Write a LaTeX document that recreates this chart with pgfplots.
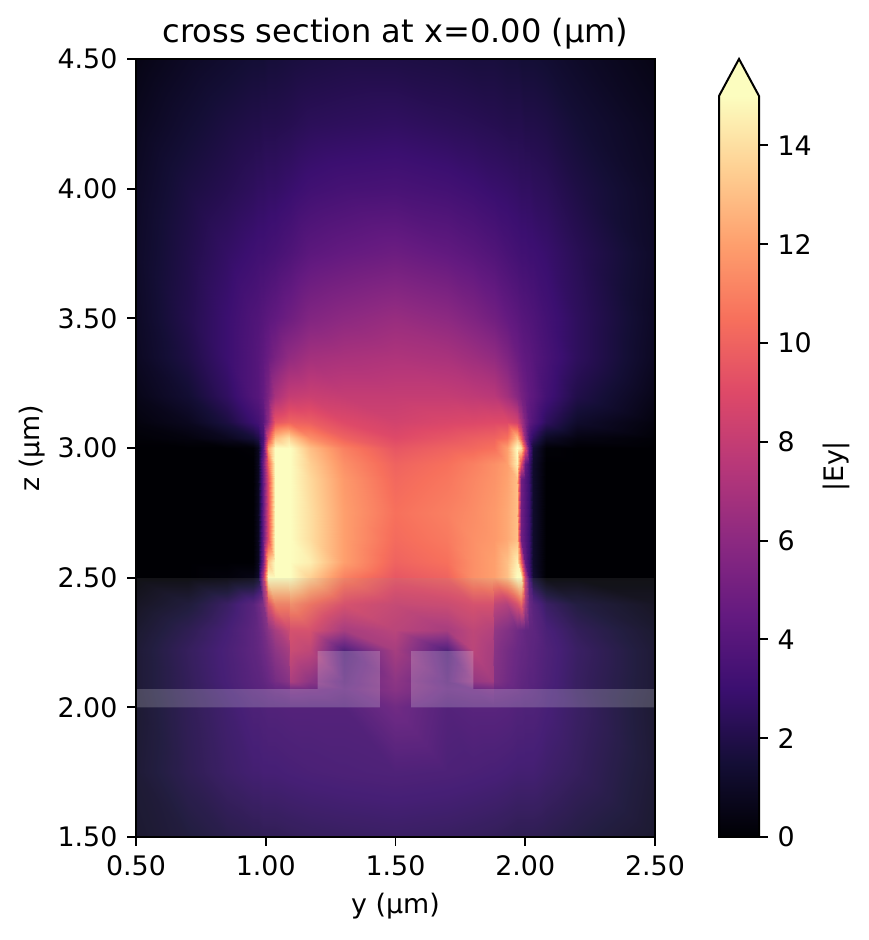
\documentclass[border=0pt]{standalone}
\usepackage{fontspec}
\setmainfont{DejaVu Sans}
\usepackage{pgfplots}
\pgfplotsset{compat=1.18}
\pgfplotsset{colormap={magma}{rgb255=(0,0,4); rgb255=(20,14,54); rgb255=(59,15,112); rgb255=(100,26,128); rgb255=(140,41,129); rgb255=(183,55,121); rgb255=(222,73,104); rgb255=(247,112,92); rgb255=(254,159,109); rgb255=(254,207,146); rgb255=(252,253,191)}}
\newlength{\px}\setlength{\px}{0.3614pt}
\begin{document}
\begin{tikzpicture}
\path[use as bounding box] (0,0) rectangle (868\px,940\px);
\begin{axis}[
  at={(136\px,103\px)}, anchor=south west, scale only axis,
  width=519\px, height=778\px,
  xmin=0.5, xmax=2.5, ymin=1.5, ymax=4.5,
  xtick={0.5,1,1.5,2,2.5}, ytick={1.5,2,2.5,3,3.5,4,4.5},
  xtick pos=bottom, ytick pos=left,
  tick align=outside, major tick length=3.2pt,
  tick style={black,line width=0.72pt}, axis line style={line width=0.72pt},
  /pgf/number format/assume math mode=true,
  /pgf/number format/fixed, /pgf/number format/fixed zerofill, /pgf/number format/precision=2,
  tick label style={font=\fontsize{9.7}{11}\selectfont},
  label style={font=\fontsize{9.7}{11}\selectfont},
  title style={font=\fontsize{11.6}{13}\selectfont, yshift=-6pt},
  title={cross section at x=0.00 (µm)},
  xlabel={y (µm)}, ylabel={z (µm)},
  ylabel shift=-2.5pt, xlabel shift=-0.5pt,
  point meta min=0, point meta max=15,
  axis on top,
]
\addplot[surf, shader=interp, mesh/cols=26, point meta=explicit] table[x=y, y=z, meta=c, row sep=\\] {
y z c\\
0.5 1.5 .9\\ 0.7 1.5 1.4\\ 0.85 1.5 1.8\\ 0.95 1.5 2\\ 0.97 1.5 2\\ 0.99 1.5 2.1\\ 1.01 1.5 2.1\\ 1.035 1.5 2.1\\ 1.09 1.5 2.2\\ 1.095 1.5 2.2\\ 1.17 1.5 2.3\\ 1.3 1.5 2.4\\ 1.5 1.5 2.5\\ 1.7 1.5 2.4\\ 1.8 1.5 2.3\\ 1.875 1.5 2.2\\ 1.88 1.5 2.2\\ 1.93 1.5 2.1\\ 1.97 1.5 2\\ 1.985 1.5 2\\ 2.0 1.5 2\\ 2.015 1.5 2\\ 2.03 1.5 2\\ 2.08 1.5 1.9\\ 2.2 1.5 1.6\\ 2.5 1.5 .9\\
0.5 1.75 1.1\\ 0.7 1.75 2\\ 0.85 1.75 2.6\\ 0.95 1.75 2.9\\ 0.97 1.75 2.9\\ 0.99 1.75 3\\ 1.01 1.75 3\\ 1.035 1.75 3\\ 1.09 1.75 3.1\\ 1.095 1.75 3.1\\ 1.17 1.75 3.2\\ 1.3 1.75 3.3\\ 1.5 1.75 3.4\\ 1.7 1.75 3.3\\ 1.8 1.75 3.2\\ 1.875 1.75 3.1\\ 1.88 1.75 3.1\\ 1.93 1.75 3\\ 1.97 1.75 2.9\\ 1.985 1.75 2.9\\ 2.0 1.75 2.9\\ 2.015 1.75 2.9\\ 2.03 1.75 2.9\\ 2.08 1.75 2.7\\ 2.2 1.75 2.3\\ 2.5 1.75 1.1\\
0.5 2.0 1\\ 0.7 2.0 2.1\\ 0.85 2.0 2.8\\ 0.95 2.0 3.3\\ 0.97 2.0 3.3\\ 0.99 2.0 3.4\\ 1.01 2.0 3.5\\ 1.035 2.0 3.5\\ 1.09 2.0 3.6\\ 1.095 2.0 3.6\\ 1.17 2.0 3.6\\ 1.3 2.0 3.6\\ 1.5 2.0 4.8\\ 1.7 2.0 3.6\\ 1.8 2.0 3.8\\ 1.875 2.0 3.8\\ 1.88 2.0 3.8\\ 1.93 2.0 3.7\\ 1.97 2.0 3.5\\ 1.985 2.0 3.5\\ 2.0 2.0 3.4\\ 2.015 2.0 3.4\\ 2.03 2.0 3.4\\ 2.08 2.0 3.1\\ 2.2 2.0 2.5\\ 2.5 2.0 1\\
0.5 2.07 1.1\\ 0.7 2.07 2.2\\ 0.85 2.07 3\\ 0.95 2.07 3.7\\ 0.97 2.07 3.8\\ 0.99 2.07 3.9\\ 1.01 2.07 4.1\\ 1.035 2.07 4.3\\ 1.09 2.07 4.6\\ 1.095 2.07 5\\ 1.17 2.07 4.8\\ 1.3 2.07 4.3\\ 1.5 2.07 5.8\\ 1.7 2.07 4.3\\ 1.8 2.07 4.6\\ 1.875 2.07 5\\ 1.88 2.07 4.6\\ 1.93 2.07 4.4\\ 1.97 2.07 4.2\\ 1.985 2.07 4\\ 2.0 2.07 3.9\\ 2.015 2.07 3.8\\ 2.03 2.07 3.7\\ 2.08 2.07 3.2\\ 2.2 2.07 2.4\\ 2.5 2.07 1.1\\
0.5 2.1 1.1\\ 0.7 2.1 2.2\\ 0.85 2.1 3.1\\ 0.95 2.1 3.8\\ 0.97 2.1 3.9\\ 0.99 2.1 4.1\\ 1.01 2.1 4.4\\ 1.035 2.1 5\\ 1.09 2.1 5.8\\ 1.095 2.1 7.2\\ 1.17 2.1 6\\ 1.3 2.1 4\\ 1.5 2.1 6\\ 1.7 2.1 4\\ 1.8 2.1 6.3\\ 1.875 2.1 6.8\\ 1.88 2.1 5.5\\ 1.93 2.1 4.8\\ 1.97 2.1 4.3\\ 1.985 2.1 4.1\\ 2.0 2.1 4\\ 2.015 2.1 3.8\\ 2.03 2.1 3.8\\ 2.08 2.1 3.3\\ 2.2 2.1 2.4\\ 2.5 2.1 1.1\\
0.5 2.22 1.1\\ 0.7 2.22 2.3\\ 0.85 2.22 3.2\\ 0.95 2.22 4\\ 0.97 2.22 4.2\\ 0.99 2.22 4.6\\ 1.01 2.22 5.1\\ 1.035 2.22 6\\ 1.09 2.22 7\\ 1.095 2.22 8.5\\ 1.17 2.22 8\\ 1.3 2.22 3.5\\ 1.5 2.22 7\\ 1.7 2.22 3.5\\ 1.8 2.22 7.8\\ 1.875 2.22 7\\ 1.88 2.22 5.8\\ 1.93 2.22 5\\ 1.97 2.22 4.5\\ 1.985 2.22 4.3\\ 2.0 2.22 4.2\\ 2.015 2.22 4\\ 2.03 2.22 3.9\\ 2.08 2.22 3.4\\ 2.2 2.22 2.5\\ 2.5 2.22 1.1\\
0.5 2.3 .9\\ 0.7 2.3 2\\ 0.85 2.3 3\\ 0.95 2.3 4\\ 0.97 2.3 4.3\\ 0.99 2.3 4.9\\ 1.01 2.3 5.8\\ 1.035 2.3 7\\ 1.09 2.3 8.5\\ 1.095 2.3 9\\ 1.17 2.3 9\\ 1.3 2.3 7\\ 1.5 2.3 7.8\\ 1.7 2.3 7\\ 1.8 2.3 8\\ 1.875 2.3 7.5\\ 1.88 2.3 6.2\\ 1.93 2.3 5.5\\ 1.97 2.3 4.8\\ 1.985 2.3 4.5\\ 2.0 2.3 4.2\\ 2.015 2.3 4.1\\ 2.03 2.3 4\\ 2.08 2.3 3.2\\ 2.2 2.3 2.2\\ 2.5 2.3 .9\\
0.5 2.4 .5\\ 0.7 2.4 1.3\\ 0.85 2.4 2.5\\ 0.95 2.4 3.8\\ 0.97 2.4 4.5\\ 0.99 2.4 5.5\\ 1.01 2.4 9\\ 1.035 2.4 11\\ 1.09 2.4 11\\ 1.095 2.4 11.5\\ 1.17 2.4 10.5\\ 1.3 2.4 9\\ 1.5 2.4 8.3\\ 1.7 2.4 8.5\\ 1.8 2.4 9\\ 1.875 2.4 9\\ 1.88 2.4 8\\ 1.93 2.4 7.5\\ 1.97 2.4 9\\ 1.985 2.4 10\\ 2.0 2.4 7\\ 2.015 2.4 4.5\\ 2.03 2.4 3.8\\ 2.08 2.4 2.5\\ 2.2 2.4 1.5\\ 2.5 2.4 .5\\
0.5 2.5 0\\ 0.7 2.5 0\\ 0.85 2.5 .2\\ 0.95 2.5 .5\\ 0.97 2.5 1.2\\ 0.99 2.5 7\\ 1.01 2.5 15\\ 1.035 2.5 15\\ 1.09 2.5 15\\ 1.095 2.5 15\\ 1.17 2.5 13.5\\ 1.3 2.5 11\\ 1.5 2.5 9.5\\ 1.7 2.5 10\\ 1.8 2.5 11.5\\ 1.875 2.5 12\\ 1.88 2.5 12\\ 1.93 2.5 13\\ 1.97 2.5 15\\ 1.985 2.5 15\\ 2.0 2.5 8\\ 2.015 2.5 3.5\\ 2.03 2.5 1.4\\ 2.08 2.5 0\\ 2.2 2.5 0\\ 2.5 2.5 0\\
0.5 2.56 0\\ 0.7 2.56 0\\ 0.85 2.56 0\\ 0.95 2.56 0\\ 0.97 2.56 .8\\ 0.99 2.56 5\\ 1.01 2.56 13\\ 1.035 2.56 15\\ 1.09 2.56 15\\ 1.095 2.56 15\\ 1.17 2.56 14.5\\ 1.3 2.56 12\\ 1.5 2.56 10\\ 1.7 2.56 10.5\\ 1.8 2.56 11.5\\ 1.875 2.56 12\\ 1.88 2.56 12\\ 1.93 2.56 13\\ 1.97 2.56 14.5\\ 1.985 2.56 10\\ 2.0 2.56 4.5\\ 2.015 2.56 3\\ 2.03 2.56 1.2\\ 2.08 2.56 0\\ 2.2 2.56 0\\ 2.5 2.56 0\\
0.5 2.65 0\\ 0.7 2.65 0\\ 0.85 2.65 0\\ 0.95 2.65 0\\ 0.97 2.65 .8\\ 0.99 2.65 4.5\\ 1.01 2.65 9\\ 1.035 2.65 15\\ 1.09 2.65 15\\ 1.095 2.65 15\\ 1.17 2.65 14\\ 1.3 2.65 12\\ 1.5 2.65 10.3\\ 1.7 2.65 10.8\\ 1.8 2.65 11.5\\ 1.875 2.65 11.8\\ 1.88 2.65 11.8\\ 1.93 2.65 12.3\\ 1.97 2.65 13\\ 1.985 2.65 5\\ 2.0 2.65 4\\ 2.015 2.65 3\\ 2.03 2.65 1.2\\ 2.08 2.65 0\\ 2.2 2.65 0\\ 2.5 2.65 0\\
0.5 2.75 0\\ 0.7 2.75 0\\ 0.85 2.75 0\\ 0.95 2.75 0\\ 0.97 2.75 .8\\ 0.99 2.75 4.5\\ 1.01 2.75 9\\ 1.035 2.75 15\\ 1.09 2.75 15\\ 1.095 2.75 15\\ 1.17 2.75 14\\ 1.3 2.75 12\\ 1.5 2.75 10.5\\ 1.7 2.75 11\\ 1.8 2.75 11.4\\ 1.875 2.75 11.8\\ 1.88 2.75 11.8\\ 1.93 2.75 12.3\\ 1.97 2.75 13\\ 1.985 2.75 5\\ 2.0 2.75 4\\ 2.015 2.75 3\\ 2.03 2.75 1.2\\ 2.08 2.75 0\\ 2.2 2.75 0\\ 2.5 2.75 0\\
0.5 2.88 0\\ 0.7 2.88 0\\ 0.85 2.88 0\\ 0.95 2.88 0\\ 0.97 2.88 .8\\ 0.99 2.88 4.5\\ 1.01 2.88 9\\ 1.035 2.88 15\\ 1.09 2.88 15\\ 1.095 2.88 15\\ 1.17 2.88 13.8\\ 1.3 2.88 11.8\\ 1.5 2.88 10.2\\ 1.7 2.88 10.7\\ 1.8 2.88 11.2\\ 1.875 2.88 11.6\\ 1.88 2.88 11.6\\ 1.93 2.88 12.1\\ 1.97 2.88 13\\ 1.985 2.88 5\\ 2.0 2.88 4\\ 2.015 2.88 3\\ 2.03 2.88 1.2\\ 2.08 2.88 0\\ 2.2 2.88 0\\ 2.5 2.88 0\\
0.5 2.94 0\\ 0.7 2.94 0\\ 0.85 2.94 0\\ 0.95 2.94 0\\ 0.97 2.94 .8\\ 0.99 2.94 4.8\\ 1.01 2.94 10\\ 1.035 2.94 15\\ 1.09 2.94 15\\ 1.095 2.94 15\\ 1.17 2.94 13.5\\ 1.3 2.94 11.5\\ 1.5 2.94 10\\ 1.7 2.94 10.5\\ 1.8 2.94 11\\ 1.875 2.94 11.5\\ 1.88 2.94 11.5\\ 1.93 2.94 12\\ 1.97 2.94 14.5\\ 1.985 2.94 9\\ 2.0 2.94 4.5\\ 2.015 2.94 3\\ 2.03 2.94 1.2\\ 2.08 2.94 0\\ 2.2 2.94 0\\ 2.5 2.94 0\\
0.5 3.0 0\\ 0.7 3.0 0\\ 0.85 3.0 0\\ 0.95 3.0 .1\\ 0.97 3.0 .8\\ 0.99 3.0 4\\ 1.01 3.0 12\\ 1.035 3.0 15\\ 1.09 3.0 15\\ 1.095 3.0 15\\ 1.17 3.0 13\\ 1.3 3.0 11\\ 1.5 3.0 9.5\\ 1.7 3.0 10\\ 1.8 3.0 10.2\\ 1.875 3.0 10.5\\ 1.88 3.0 10.5\\ 1.93 3.0 12\\ 1.97 3.0 15\\ 1.985 3.0 14\\ 2.0 3.0 9\\ 2.015 3.0 4\\ 2.03 3.0 1.5\\ 2.08 3.0 .1\\ 2.2 3.0 0\\ 2.5 3.0 0\\
0.5 3.04 .1\\ 0.7 3.04 .3\\ 0.85 3.04 .8\\ 0.95 3.04 1.5\\ 0.97 3.04 2\\ 0.99 3.04 3.5\\ 1.01 3.04 9\\ 1.035 3.04 13\\ 1.09 3.04 14\\ 1.095 3.04 13.5\\ 1.17 3.04 11.5\\ 1.3 3.04 10\\ 1.5 3.04 9\\ 1.7 3.04 9.5\\ 1.8 3.04 9.8\\ 1.875 3.04 10\\ 1.88 3.04 10\\ 1.93 3.04 10.5\\ 1.97 3.04 13\\ 1.985 3.04 10\\ 2.0 3.04 6\\ 2.015 3.04 3.5\\ 2.03 3.04 2.5\\ 2.08 3.04 1\\ 2.2 3.04 .4\\ 2.5 3.04 .1\\
0.5 3.1 .3\\ 0.7 3.1 .8\\ 0.85 3.1 1.8\\ 0.95 3.1 3\\ 0.97 3.1 3.3\\ 0.99 3.1 4\\ 1.01 3.1 6\\ 1.035 3.1 9.5\\ 1.09 3.1 10\\ 1.095 3.1 10\\ 1.17 3.1 9.8\\ 1.3 3.1 9\\ 1.5 3.1 8.5\\ 1.7 3.1 8.8\\ 1.8 3.1 8.9\\ 1.875 3.1 9\\ 1.88 3.1 9\\ 1.93 3.1 9\\ 1.97 3.1 8.5\\ 1.985 3.1 7\\ 2.0 3.1 5.5\\ 2.015 3.1 4.3\\ 2.03 3.1 3.8\\ 2.08 3.1 2.5\\ 2.2 3.1 1.2\\ 2.5 3.1 .3\\
0.5 3.2 .6\\ 0.7 3.2 1.4\\ 0.85 3.2 2.6\\ 0.95 3.2 3.8\\ 0.97 3.2 4\\ 0.99 3.2 4.5\\ 1.01 3.2 5.4\\ 1.035 3.2 7\\ 1.09 3.2 8\\ 1.095 3.2 8\\ 1.17 3.2 8.2\\ 1.3 3.2 8\\ 1.5 3.2 8\\ 1.7 3.2 8\\ 1.8 3.2 7.8\\ 1.875 3.2 7.6\\ 1.88 3.2 7.6\\ 1.93 3.2 6.8\\ 1.97 3.2 5.8\\ 1.985 3.2 5.2\\ 2.0 3.2 4.8\\ 2.015 3.2 4.4\\ 2.03 3.2 4.2\\ 2.08 3.2 3.3\\ 2.2 3.2 2\\ 2.5 3.2 .6\\
0.5 3.35 .9\\ 0.7 3.35 1.9\\ 0.85 3.35 3\\ 0.95 3.35 3.8\\ 0.97 3.35 4\\ 0.99 3.35 4.3\\ 1.01 3.35 4.7\\ 1.035 3.35 5.3\\ 1.09 3.35 6.2\\ 1.095 3.35 6.2\\ 1.17 3.35 6.8\\ 1.3 3.35 7\\ 1.5 3.35 7.2\\ 1.7 3.35 7\\ 1.8 3.35 6.6\\ 1.875 3.35 6.2\\ 1.88 3.35 6.2\\ 1.93 3.35 5.5\\ 1.97 3.35 4.8\\ 1.985 3.35 4.5\\ 2.0 3.35 4.3\\ 2.015 3.35 4.2\\ 2.03 3.35 4\\ 2.08 3.35 3.5\\ 2.2 3.35 2.5\\ 2.5 3.35 .9\\
0.5 3.5 1\\ 0.7 3.5 2.1\\ 0.85 3.5 3\\ 0.95 3.5 3.7\\ 0.97 3.5 3.8\\ 0.99 3.5 4\\ 1.01 3.5 4.2\\ 1.035 3.5 4.4\\ 1.09 3.5 4.9\\ 1.095 3.5 4.9\\ 1.17 3.5 5.6\\ 1.3 3.5 6\\ 1.5 3.5 6.4\\ 1.7 3.5 6\\ 1.8 3.5 5.5\\ 1.875 3.5 5\\ 1.88 3.5 5\\ 1.93 3.5 4.5\\ 1.97 3.5 4.2\\ 1.985 3.5 4\\ 2.0 3.5 3.9\\ 2.015 3.5 3.8\\ 2.03 3.5 3.7\\ 2.08 3.5 3.3\\ 2.2 3.5 2.5\\ 2.5 3.5 1\\
0.5 3.75 1.1\\ 0.7 3.75 2\\ 0.85 3.75 2.7\\ 0.95 3.75 3.1\\ 0.97 3.75 3.2\\ 0.99 3.75 3.2\\ 1.01 3.75 3.3\\ 1.035 3.75 3.4\\ 1.09 3.75 3.7\\ 1.095 3.75 3.7\\ 1.17 3.75 4.2\\ 1.3 3.75 4.5\\ 1.5 3.75 4.8\\ 1.7 3.75 4.4\\ 1.8 3.75 4.1\\ 1.875 3.75 3.8\\ 1.88 3.75 3.8\\ 1.93 3.75 3.5\\ 1.97 3.75 3.3\\ 1.985 3.75 3.2\\ 2.0 3.75 3.2\\ 2.015 3.75 3.1\\ 2.03 3.75 3.1\\ 2.08 3.75 2.9\\ 2.2 3.75 2.3\\ 2.5 3.75 1.1\\
0.5 4.0 1\\ 0.7 4.0 1.8\\ 0.85 4.0 2.2\\ 0.95 4.0 2.5\\ 0.97 4.0 2.6\\ 0.99 4.0 2.6\\ 1.01 4.0 2.7\\ 1.035 4.0 2.7\\ 1.09 4.0 2.9\\ 1.095 4.0 2.9\\ 1.17 4.0 3.2\\ 1.3 4.0 3.4\\ 1.5 4.0 3.5\\ 1.7 4.0 3.3\\ 1.8 4.0 3.1\\ 1.875 4.0 2.9\\ 1.88 4.0 2.9\\ 1.93 4.0 2.8\\ 1.97 4.0 2.7\\ 1.985 4.0 2.6\\ 2.0 4.0 2.6\\ 2.015 4.0 2.6\\ 2.03 4.0 2.5\\ 2.08 4.0 2.4\\ 2.2 4.0 1.9\\ 2.5 4.0 1\\
0.5 4.25 .8\\ 0.7 4.25 1.4\\ 0.85 4.25 1.8\\ 0.95 4.25 2\\ 0.97 4.25 2\\ 0.99 4.25 2.1\\ 1.01 4.25 2.1\\ 1.035 4.25 2.1\\ 1.09 4.25 2.2\\ 1.095 4.25 2.2\\ 1.17 4.25 2.4\\ 1.3 4.25 2.5\\ 1.5 4.25 2.6\\ 1.7 4.25 2.4\\ 1.8 4.25 2.3\\ 1.875 4.25 2.2\\ 1.88 4.25 2.2\\ 1.93 4.25 2.1\\ 1.97 4.25 2.1\\ 1.985 4.25 2.1\\ 2.0 4.25 2\\ 2.015 4.25 2\\ 2.03 4.25 2\\ 2.08 4.25 1.9\\ 2.2 4.25 1.5\\ 2.5 4.25 .8\\
0.5 4.5 .5\\ 0.7 4.5 1\\ 0.85 4.5 1.3\\ 0.95 4.5 1.5\\ 0.97 4.5 1.5\\ 0.99 4.5 1.5\\ 1.01 4.5 1.6\\ 1.035 4.5 1.6\\ 1.09 4.5 1.7\\ 1.095 4.5 1.7\\ 1.17 4.5 1.8\\ 1.3 4.5 1.9\\ 1.5 4.5 1.9\\ 1.7 4.5 1.8\\ 1.8 4.5 1.7\\ 1.875 4.5 1.7\\ 1.88 4.5 1.7\\ 1.93 4.5 1.6\\ 1.97 4.5 1.6\\ 1.985 4.5 1.5\\ 2.0 4.5 1.5\\ 2.015 4.5 1.5\\ 2.03 4.5 1.5\\ 2.08 4.5 1.4\\ 2.2 4.5 1.1\\ 2.5 4.5 .5\\
};
% medium overlay (z below 2.5)
\addplot[draw=none, fill={rgb,255:red,150;green,150;blue,155}, fill opacity=0.12, forget plot] coordinates {(0.5,1.5) (2.5,1.5) (2.5,2.5) (0.5,2.5)} -- cycle;
% waveguide overlay
\addplot[draw=none, fill=white, fill opacity=0.2, forget plot] coordinates {(0.5,2.0) (1.44,2.0) (1.44,2.217) (1.2,2.217) (1.2,2.07) (0.5,2.07)} -- cycle;
\addplot[draw=none, fill=white, fill opacity=0.2, forget plot] coordinates {(1.56,2.0) (2.5,2.0) (2.5,2.07) (1.8,2.07) (1.8,2.217) (1.56,2.217)} -- cycle;
\end{axis}
\begin{axis}[
  at={(719\px,103\px)}, anchor=south west, scale only axis,
  width=40\px, height=741\px,
  xmin=0, xmax=1, ymin=0, ymax=15, clip=false,
  xtick=\empty, ytick={0,2,4,6,8,10,12,14},
  ytick pos=right, yticklabel pos=right,
  tick align=outside, major tick length=3.2pt,
  tick style={black,line width=0.72pt}, axis line style={draw=none},
  /pgf/number format/assume math mode=true,
  tick label style={font=\fontsize{9.7}{11}\selectfont},
  label style={font=\fontsize{9.7}{11}\selectfont},
  ylabel={|Ey|}, ylabel shift=-3pt,
  point meta min=0, point meta max=15,
]
\addplot[surf, shader=interp, mesh/cols=2, point meta=explicit] table[x=x, y=y, meta=c, row sep=\\] {
x y c\\
0 0 0\\ 1 0 0\\
0 15 15\\ 1 15 15\\
};
\addplot[draw=none, fill={rgb,255:red,252;green,253;blue,191}] coordinates {(0,15) (0.5,15.75) (1,15)} -- cycle;
\addplot[draw=black, line width=0.72pt] coordinates {(0,15) (0.5,15.75) (1,15) (1,0) (0,0)} -- cycle;
\end{axis}
\end{tikzpicture}
\end{document}
